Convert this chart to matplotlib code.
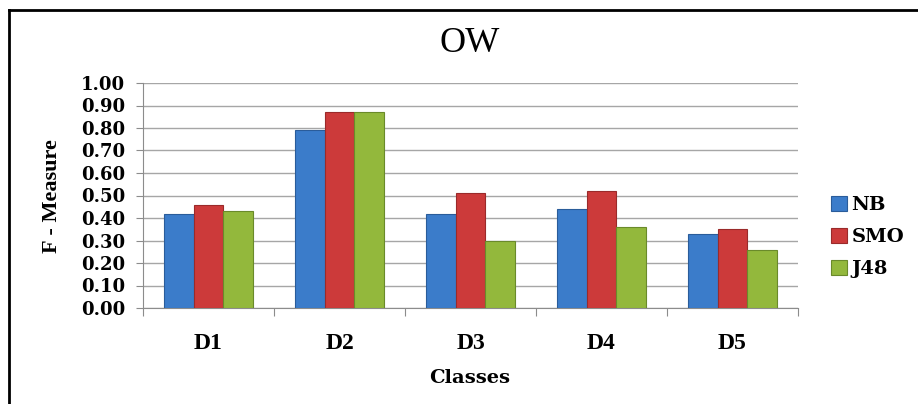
import numpy as np
import matplotlib.pyplot as plt
from matplotlib.lines import Line2D

# F-measure per class for each classifier
classes = ["D1", "D2", "D3", "D4", "D5"]
nb = [0.42, 0.79, 0.42, 0.44, 0.33]
smo = [0.46, 0.87, 0.51, 0.52, 0.35]
j48 = [0.43, 0.87, 0.30, 0.36, 0.26]
series_names = ["NB", "SMO", "J48"]
yticks = np.arange(0, 1.01, 0.1)

colors = ["#3b7cca", "#cc3a3a", "#93b83c"]
edges = ["#2a5c9a", "#9a2a2a", "#6a8a2a"]

plt.rcParams['font.family'] = ['Liberation Serif', 'DejaVu Serif']
wide = ['DejaVu Serif']

fig = plt.figure(figsize=(9.18, 4.04), dpi=100)
ax = fig.add_axes([143 / 918, 1 - 308 / 404, 655 / 918, 225 / 404])

x = np.arange(len(classes))
w = 0.226
for i, (vals, name) in enumerate(zip([nb, smo, j48], series_names)):
    ax.bar(x + (i - 1) * w, vals, width=w, color=colors[i],
           edgecolor=edges[i], linewidth=0.8, label=name, zorder=3)

ax.set_xlim(-0.5, len(classes) - 0.5)
ax.set_ylim(0, 1.0)
ax.set_yticks(yticks)
ax.set_yticklabels([f"{v:.2f}" for v in yticks], fontsize=13,
                   fontweight='bold', family=wide)
ax.yaxis.grid(True, color='#a6a6a6', linewidth=1.0, zorder=0)

# category boundaries as ticks, labels in the middle
ax.set_xticks(np.arange(-0.5, len(classes), 1.0))
ax.set_xticklabels([])
ax.set_xticks(x, minor=True)
ax.set_xticklabels(classes, minor=True, fontsize=17, fontweight='bold')
ax.tick_params(axis='x', which='major', length=6, color='#8c8c8c', direction='out')
ax.tick_params(axis='x', which='minor', length=0, pad=18)
ax.tick_params(axis='y', length=5, color='#8c8c8c', pad=8)

for s in ['top', 'right']:
    ax.spines[s].set_visible(False)
for s in ['left', 'bottom']:
    ax.spines[s].set_color('#8c8c8c')

fig.text(470 / 918, 1 - 43 / 404, "OW", ha='center', va='center', fontsize=26)
fig.text(52 / 918, 1 - 196 / 404, "F - Measure", rotation=90, ha='center',
         va='center', fontsize=16, fontweight='bold')
fig.text(470 / 918, 1 - 378 / 404, "Classes", ha='center', va='center',
         fontsize=14, fontweight='bold', family=wide)

leg = ax.legend(loc='center left', bbox_to_anchor=(831 / 918, 1 - 237 / 404),
                bbox_transform=fig.transFigure, frameon=False, borderpad=0,
                borderaxespad=0, handlelength=0.8, handleheight=0.8,
                handletextpad=0.25, labelspacing=0.72,
                prop={'weight': 'bold', 'size': 14, 'family': wide})

# outer frame of the chart
fig.add_artist(Line2D([9 / 918, 1], [1 - 10 / 404] * 2, color='black', lw=2))
fig.add_artist(Line2D([9 / 918] * 2, [0, 1 - 10 / 404], color='black', lw=2))

fig.savefig("out.png", dpi=100)
